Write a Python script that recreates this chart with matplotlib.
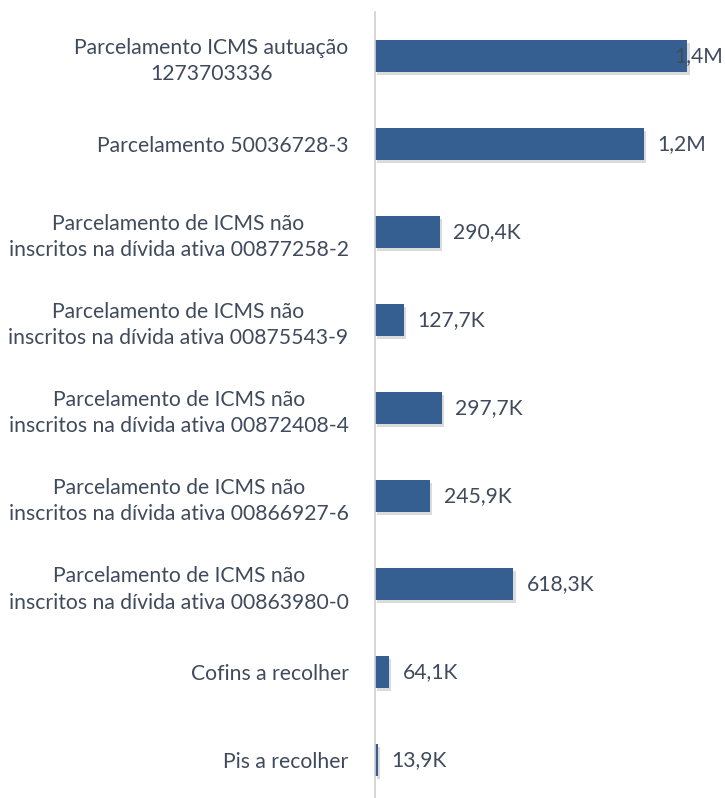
import matplotlib
matplotlib.use("Agg")
import matplotlib.pyplot as plt
import matplotlib.patheffects as pe

categories = [
    "Parcelamento ICMS autuação\n1273703336",
    "Parcelamento 50036728-3",
    "Parcelamento de ICMS não\ninscritos na dívida ativa 00877258-2",
    "Parcelamento de ICMS não\ninscritos na dívida ativa 00875543-9",
    "Parcelamento de ICMS não\ninscritos na dívida ativa 00872408-4",
    "Parcelamento de ICMS não\ninscritos na dívida ativa 00866927-6",
    "Parcelamento de ICMS não\ninscritos na dívida ativa 00863980-0",
    "Cofins a recolher",
    "Pis a recolher",
]
values = [1395000, 1200000, 290400, 127700, 297700, 245900, 618300, 64100, 13900]
value_labels = ["1,4M", "1,2M", "290,4K", "127,7K", "297,7K", "245,9K", "618,3K", "64,1K", "13,9K"]

bar_color = "#355F91"
text_color = "#3F4A5C"
font = "Lato"
fs = 15.2

fig = plt.figure(figsize=(7.25, 7.98), dpi=100)
ax = fig.add_axes([375/725, 0, 1 - 375/725, 1 - 12/798])

ypos = list(range(len(categories)))
bars = ax.barh(ypos, values, height=0.36, color=bar_color,
               path_effects=[pe.SimplePatchShadow(offset=(1.5, -2), shadow_rgbFace="#000000", alpha=0.14), pe.Normal()])

ax.set_xlim(0, 1.5625e6)
ax.set_ylim(8 + 0.43, -0.5)
ax.set_yticks(ypos)
ax.set_yticklabels(categories, fontsize=fs, color=text_color, family=font, ha="right",
                   multialignment="center", linespacing=1.4)
ax.tick_params(axis="y", length=0, pad=19)
ax.set_xticks([])
for s in ["top", "right", "bottom"]:
    ax.spines[s].set_visible(False)
ax.spines["left"].set_color("#D0D0D0")
ax.spines["left"].set_linewidth(1.2)

for y, v, lab in zip(ypos, values, value_labels):
    if v > 1.3e6:
        ax.text(v - 0.058e6, y, lab, va="center", ha="left", fontsize=fs, color=text_color, family=font)
    else:
        ax.text(v + 0.06e6, y, lab, va="center", ha="left", fontsize=fs, color=text_color, family=font)

fig.savefig("out.png", dpi=100)
